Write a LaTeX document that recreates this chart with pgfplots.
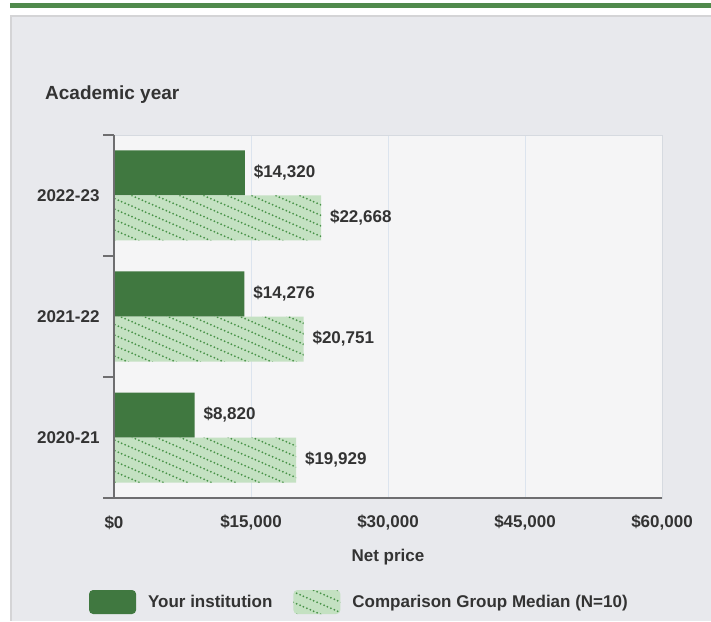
\documentclass[border=0pt]{standalone}
\usepackage{pgfplots}
\pgfplotsset{compat=1.18}
\usepackage{fontspec}
\setmainfont{Liberation Sans}
\usetikzlibrary{patterns.meta}

\definecolor{topgreen}{RGB}{80,138,76}
\definecolor{darkbar}{RGB}{64,120,64}
\definecolor{lightbar}{RGB}{196,225,194}
\definecolor{dotgreen}{RGB}{72,146,72}
\definecolor{panelbg}{RGB}{232,233,237}
\definecolor{panelborder}{RGB}{212,212,214}
\definecolor{plotbg}{RGB}{245,245,246}
\definecolor{gridcol}{RGB}{220,228,238}
\definecolor{framecol}{RGB}{214,218,224}
\definecolor{axisdark}{RGB}{110,110,112}
\definecolor{txt}{RGB}{51,51,51}

\newcommand{\fsz}{\fontsize{17}{20}\selectfont\bfseries}

% dotted diagonal lines used for the comparison bars
\pgfdeclarepattern{
  name=dotlines,
  type=uncolored,
  bottom left={\pgfpoint{-1.5pt}{-1.5pt}},
  top right={\pgfpoint{25.5pt}{12pt}},
  tile size={\pgfpoint{24pt}{10.5pt}},
  code={
    \pgfpathcircle{\pgfpoint{1.714pt}{9.75pt}}{1pt}
    \pgfpathcircle{\pgfpoint{5.143pt}{8.25pt}}{1pt}
    \pgfpathcircle{\pgfpoint{8.571pt}{6.75pt}}{1pt}
    \pgfpathcircle{\pgfpoint{12pt}{5.25pt}}{1pt}
    \pgfpathcircle{\pgfpoint{15.429pt}{3.75pt}}{1pt}
    \pgfpathcircle{\pgfpoint{18.857pt}{2.25pt}}{1pt}
    \pgfpathcircle{\pgfpoint{22.286pt}{0.75pt}}{1pt}
    \pgfusepath{fill}
  }
}

\begin{document}
\begin{tikzpicture}
  \path[use as bounding box, fill=white] (0,0) rectangle (711pt,621pt);
  \fill[topgreen] (10pt,613pt) rectangle (711pt,618pt);
  \fill[panelborder] (10pt,0) rectangle (711pt,606pt);
  \fill[panelbg] (12pt,0) rectangle (711pt,604pt);
  \node[anchor=west, font=\fontsize{19}{22}\selectfont\bfseries, text=txt, inner sep=0pt]
    at (45pt,526pt) {Academic year};

  \begin{axis}[at={(114pt,123pt)}, anchor=south west,
      scale only axis, width=548pt, height=363pt,
      xbar, bar width=45pt,
      xmin=0, xmax=60000, ymin=-0.5, ymax=2.5,
      xtick={0,15000,30000,45000,60000},
      xticklabels={{\$0},{\$15,000},{\$30,000},{\$45,000},{\$60,000}},
      ytick={0,1,2}, yticklabels={2020-21,2021-22,2022-23},
      minor ytick={-0.5,0.5,1.5,2.5},
      major tick length=0pt, minor tick length=11pt, tick align=outside,
      xtick pos=bottom, ytick pos=left,
      every minor tick/.append style={draw=axisdark, line width=1.6pt},
      xmajorgrids, grid style={draw=gridcol, line width=1pt},
      axis line style={draw=framecol, line width=0.8pt},
      axis background/.style={fill=plotbg},
      tick label style={font=\fsz, text=txt},
      xticklabel style={anchor=center, yshift=-25pt},
      yticklabel style={anchor=east, xshift=-11pt},
      scaled x ticks=false,
      xlabel={Net price},
      xlabel style={font=\fsz, text=txt, at={(axis description cs:0.5,0)}, anchor=center, yshift=-59pt},
      clip=false,
      point meta=x,
      /pgf/number format/assume math mode=true,
      nodes near coords={\$\pgfmathprintnumber[fixed,precision=0,1000 sep={,},assume math mode=true]{\pgfplotspointmeta}},
      nodes near coords style={font=\fsz, text=txt, anchor=west, xshift=5.5pt},
      legend image code/.code={\fill[#1, rounded corners=4pt] (0pt,-12pt) rectangle (47pt,12pt);},
      legend columns=2,
      legend style={at={(axis description cs:0.446,-0.2865)}, anchor=center,
        draw=none, fill=none, font=\fsz, text=txt,
        nodes={inner sep=0pt},
        /tikz/every odd column/.append style={column sep=12pt},
        /tikz/every even column/.append style={column sep=21pt}},
    ]
    \addplot[fill=darkbar, draw=none, bar shift=22.5pt]
      coordinates {(14320,2) (14276,1) (8820,0)};
    \addlegendentry{Your institution}
    \addplot[fill=lightbar, draw=none, bar shift=-22.5pt,
        postaction={pattern=dotlines, pattern color=dotgreen}]
      coordinates {(22668,2) (20751,1) (19929,0)};
    \addlegendentry{Comparison Group Median (N=10)}
    \draw[axisdark, line width=1.6pt] (rel axis cs:0,1) -- (rel axis cs:0,0);
    \draw[axisdark, line width=1.6pt] ([xshift=-11pt]rel axis cs:0,0) -- (rel axis cs:1,0);
  \end{axis}
\end{tikzpicture}
\end{document}
